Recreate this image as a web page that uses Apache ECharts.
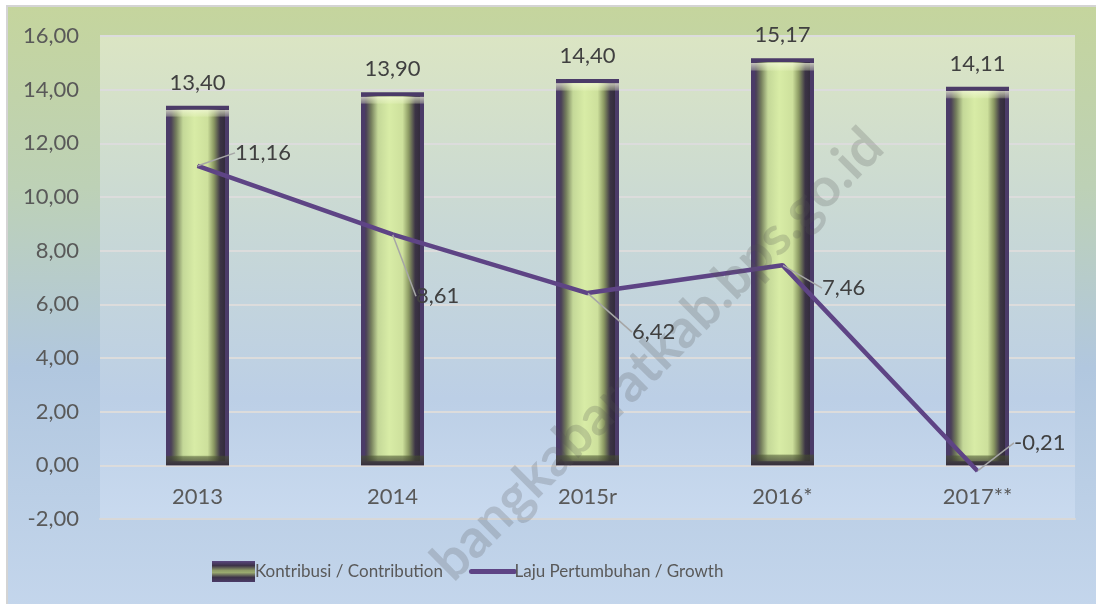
<!DOCTYPE html>
<html>
<head>
<meta charset="utf-8">
<script src="https://cdn.jsdelivr.net/npm/echarts@6/dist/echarts.min.js"></script>
<style>
html,body{margin:0;padding:0;background:#fff;}
#c{width:1096px;height:604px;}
</style>
</head>
<body>
<div id="c"></div>
<script>
const categories = ['2013', '2014', '2015r', '2016*', '2017**'];
const contribution = [13.40, 13.90, 14.40, 15.17, 14.11];
const growth = [11.16, 8.61, 6.42, 7.46, -0.21];
const seriesNames = ['Kontribusi / Contribution', 'Laju Pertumbuhan / Growth'];
const yTicks = { min: -2, max: 16, interval: 2 };
const growthLabelShift = [[32, -13], [18, 62], [39, 39], [34, 23], [31, -28]];

const fmt = v => v.toFixed(2).replace('.', ',');
const FONT = 'Lato';
const chart = echarts.init(document.getElementById('c'), null, { renderer: 'canvas' });

const barFill = new echarts.graphic.LinearGradient(0, 0, 1, 0, [
  { offset: 0, color: '#4c3c6c' },
  { offset: 0.08, color: '#4a4058' },
  { offset: 0.16, color: '#747e5c' },
  { offset: 0.27, color: '#c4d898' },
  { offset: 0.45, color: '#d8eca6' },
  { offset: 0.66, color: '#cde09c' },
  { offset: 0.76, color: '#8a9862' },
  { offset: 0.86, color: '#3c3446' },
  { offset: 1, color: '#2b2434' }
]);
const bevel = new echarts.graphic.LinearGradient(0, 0, 0, 1, [
  { offset: 0, color: 'rgba(245,250,220,0)' },
  { offset: 0.011, color: 'rgba(245,250,220,0)' },
  { offset: 0.012, color: 'rgba(245,250,220,0.7)' },
  { offset: 0.028, color: 'rgba(235,245,200,0.35)' },
  { offset: 0.032, color: 'rgba(235,245,200,0)' },
  { offset: 0.972, color: 'rgba(70,80,45,0)' },
  { offset: 0.976, color: 'rgba(70,80,45,0.55)' },
  { offset: 0.99, color: 'rgba(60,60,50,0.7)' },
  { offset: 1, color: 'rgba(50,45,55,0.9)' }
]);
const legendBar = new echarts.graphic.LinearGradient(0, 0, 0, 1, [
  { offset: 0, color: '#5a4880' },
  { offset: 0.22, color: '#3c3248' },
  { offset: 0.45, color: '#8e9c66' },
  { offset: 0.55, color: '#9aaa70' },
  { offset: 0.78, color: '#3c3248' },
  { offset: 1, color: '#4b3b68' }
]);

chart.setOption({
  backgroundColor: '#ffffff',
  animation: false,
  graphic: [
    {
      type: 'rect', z: -10, silent: true,
      shape: { x: 7, y: 6, width: 1095, height: 604 },
      style: {
        fill: new echarts.graphic.LinearGradient(0, 0, 0, 1, [
          { offset: 0, color: '#c5d59d' },
          { offset: 0.3, color: '#bdd1b6' },
          { offset: 0.6, color: '#b1c7df' },
          { offset: 1, color: '#c4d6ec' }
        ]),
        stroke: '#d4d4d4', lineWidth: 2
      }
    },
    {
      type: 'text', z: 100, silent: true,
      x: 874, y: 138, rotation: Math.PI / 4,
      style: {
        text: 'bangkabaratkab.bps.go.id',
        font: 'bold 54px ' + FONT,
        fill: 'rgba(80,80,80,0.22)',
        align: 'right', verticalAlign: 'middle'
      }
    }
  ],
  grid: {
    left: 100, right: 21, top: 36, bottom: 85,
    show: true, borderWidth: 0,
    backgroundColor: new echarts.graphic.LinearGradient(0, 0, 0, 1, [
      { offset: 0, color: '#dbe5c3' },
      { offset: 0.4, color: '#c8d8d6' },
      { offset: 0.75, color: '#bccfe6' },
      { offset: 1, color: '#c9daef' }
    ])
  },
  legend: {
    left: 207, top: 556,
    itemWidth: 43, itemHeight: 21, itemGap: 26,
    textStyle: { fontFamily: FONT, fontSize: 17, color: '#595959', padding: [0, 0, 0, -5] },
    data: [
      { name: seriesNames[0], icon: 'rect', itemStyle: { color: legendBar, borderWidth: 0 } },
      { name: seriesNames[1], itemStyle: { opacity: 0 }, lineStyle: { width: 5, cap: 'round', color: '#5e4485' } }
    ]
  },
  xAxis: {
    type: 'category',
    data: categories,
    axisLine: { show: true, onZero: false, lineStyle: { color: '#d8d8d8', width: 2 } },
    axisTick: { show: false },
    axisLabel: { fontFamily: FONT, fontSize: 22, color: '#595959', margin: -33 }
  },
  yAxis: {
    type: 'value',
    min: yTicks.min, max: yTicks.max, interval: yTicks.interval,
    axisLine: { show: false },
    axisTick: { show: false },
    splitLine: { lineStyle: { color: '#dcdcdc', width: 2 } },
    axisLabel: { fontFamily: FONT, fontSize: 22, color: '#595959', margin: 21, formatter: v => fmt(v) }
  },
  series: [
    {
      name: seriesNames[0],
      type: 'bar',
      data: contribution,
      barWidth: 63,
      barGap: '-100%',
      itemStyle: { color: barFill, borderColor: '#4b3b68', borderWidth: 4 },
      label: {
        show: true, position: 'top', distance: 12,
        fontFamily: FONT, fontSize: 22, color: '#404040',
        formatter: p => fmt(p.value)
      },
      z: 2
    },
    {
      name: 'bevel',
      type: 'bar',
      data: contribution,
      barWidth: 63,
      barGap: '-100%',
      silent: true,
      itemStyle: { color: bevel, borderWidth: 0 },
      label: { show: false },
      z: 2
    },
    {
      name: seriesNames[1],
      type: 'line',
      data: growth,
      symbol: 'circle',
      symbolSize: 1,
      showSymbol: true,
      lineStyle: { color: '#5e4485', width: 4.5 },
      itemStyle: { color: '#5e4485' },
      label: {
        show: true, position: 'right', distance: 5,
        fontFamily: FONT, fontSize: 22, color: '#404040',
        formatter: p => fmt(p.value)
      },
      labelLine: { show: true, lineStyle: { color: '#a6a6a6', width: 1.5 } },
      labelLayout: p => ({ dx: growthLabelShift[p.dataIndex][0], dy: growthLabelShift[p.dataIndex][1] }),
      z: 3
    }
  ]
});
</script>
</body>
</html>
